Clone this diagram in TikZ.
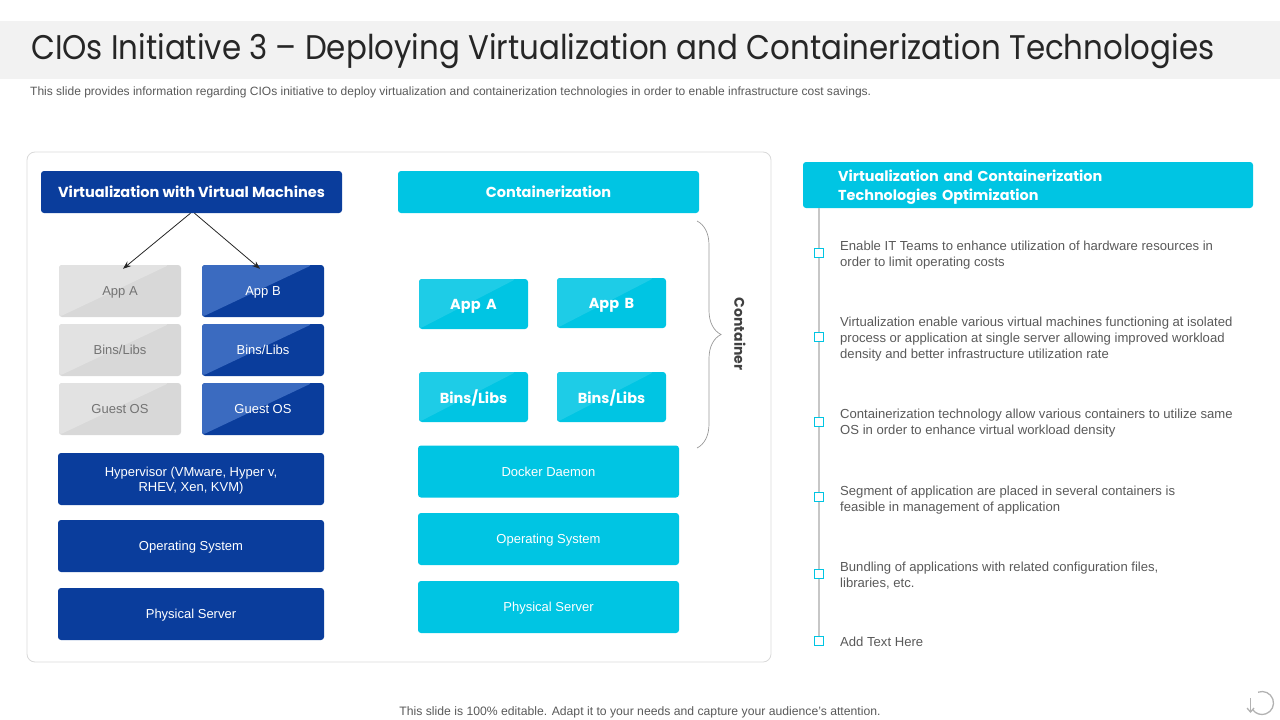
\documentclass[tikz,border=0pt]{standalone}
\usepackage{fontspec}
\setmainfont{Liberation Sans}
\newfontfamily\gothic{Poppins}
\usetikzlibrary{decorations.pathreplacing,arrows.meta}
\definecolor{navy}{HTML}{0A3D9C}
\definecolor{navyL}{HTML}{3B6BC0}
\definecolor{cyanM}{HTML}{00C5E3}
\definecolor{cyanL}{HTML}{1ECCE7}
\definecolor{grayM}{HTML}{D8D8D8}
\definecolor{grayL}{HTML}{E2E2E2}
\definecolor{band}{HTML}{F2F2F2}
\definecolor{txt}{HTML}{595959}
\definecolor{panel}{HTML}{D9D9D9}
\begin{document}
\begin{tikzpicture}[x=1pt,y=-1pt,
  box/.style={rounded corners=3pt, inner sep=0pt, align=center, text=white, text depth=0pt},
  lighttint/.style={path picture={\fill[#1] (path picture bounding box.south west) -- (path picture bounding box.north west) -- ([xshift=-12pt]path picture bounding box.north east) -- cycle;}},
  graybox/.style={box, fill=grayM, lighttint=grayL, text=gray!90!black, minimum width=122pt, minimum height=52pt, font=\fontsize{13}{15}\selectfont},
  bluebox/.style={box, fill=navy, lighttint=navyL, minimum width=122pt, minimum height=52pt, font=\fontsize{13}{15}\selectfont},
  widenavy/.style={box, fill=navy, minimum width=266pt, minimum height=52pt, font=\fontsize{13}{15}\selectfont},
  cyansmall/.style={box, fill=cyanM, lighttint=cyanL, minimum width=109pt, minimum height=50pt, font=\gothic\bfseries\fontsize{14.5}{16}\selectfont},
  widecyan/.style={box, fill=cyanM, minimum width=261pt, minimum height=52pt, font=\fontsize{13}{15}\selectfont},
  header/.style={box, minimum width=301pt, minimum height=42pt, font=\gothic\bfseries\fontsize{14.5}{16}\selectfont},
  bullet/.style={draw=cyanM, fill=white, line width=1pt, minimum size=8.5pt, inner sep=0pt},
  item/.style={anchor=west, inner sep=0pt, align=left, text=txt, font=\fontsize{13.1}{16}\selectfont},
  arr/.style={-{Stealth[length=8pt,width=6pt]}, line width=0.8pt, draw=black!85}
]
\useasboundingbox (0,0) rectangle (1280,720);
% title band
\fill[band] (0,21) rectangle (1280,79);
\node[anchor=west, inner sep=0pt, text=black!85] (title) at (31,51)
  {\resizebox{1183pt}{26pt}{\gothic CIOs Initiative 3 – Deploying Virtualization and Containerization Technologies}};
\node[anchor=west, inner sep=0pt, text=txt] (sub) at (30,92)
  {\resizebox{841pt}{!}{\fontsize{11.5}{13}\selectfont This slide provides information regarding CIOs initiative to deploy virtualization and containerization technologies in order to enable infrastructure cost savings.}};
% left panel
\draw[panel, line width=0.8pt, rounded corners=8pt] (27,152) rectangle (771,662);
% VM side
\node[header, fill=navy] (vh) at (191.5,192) {Virtualization with Virtual Machines};
\node[graybox] (ga) at (120,291) {App A};
\node[graybox] (gb) at (120,350) {Bins/Libs};
\node[graybox] (gc) at (120,409) {Guest OS};
\node[bluebox] (ba) at (263,291) {App B};
\node[bluebox] (bb) at (263,350) {Bins/Libs};
\node[bluebox] (bc) at (263,409) {Guest OS};
\node[widenavy] (hyp) at (191,479) {Hypervisor (VMware, Hyper v,\\RHEV, Xen, KVM)};
\node[widenavy] (os1) at (191,546) {Operating System};
\node[widenavy] (ps1) at (191,614) {Physical Server};
\draw[arr] ([xshift=-1pt]vh.south) -- ([xshift=3pt,yshift=-4pt]ga.north);
\draw[arr] ([xshift=3pt]vh.south) -- ([xshift=-3pt,yshift=-4pt]ba.north);
% container side
\node[header, fill=cyanM] (ch) at (548.5,192) {Containerization};
\node[cyansmall] (ca) at (473.5,304) {App\, A};
\node[cyansmall] (cb) at (611.5,303) {App\, B};
\node[cyansmall] (cc) at (473.5,397) {Bins/Libs};
\node[cyansmall] (cd) at (611.5,397) {Bins/Libs};
\node[widecyan] (dd) at (548.5,471.5) {Docker Daemon};
\node[widecyan] (os2) at (548.5,539) {Operating System};
\node[widecyan] (ps2) at (548.5,607) {Physical Server};
\coordinate (brt) at (697,221);
\coordinate (brb) at (697,448);
\draw[black!40, line width=0.7pt, decorate, decoration={brace, amplitude=24pt, aspect=0.5}] (brt) -- (brb);
\node[rotate=-90, inner sep=0pt, text=black!75, font=\gothic\bfseries\fontsize{14}{16}\selectfont] (cont) at (740,334) {Container};
% right side
\node[box, fill=cyanM, minimum width=450pt, minimum height=46pt] (rh) at (1028,185) {};
\node[anchor=west, inner sep=0pt, text width=380pt, align=left, text=white, font=\gothic\bfseries\fontsize{14.4}{19}\selectfont] (rht) at ([yshift=-2pt]rh.west -| 838,0)
  {Virtualization and Containerization\\Technologies Optimization};
\node[bullet] (s1) at (819,253) {};
\node[bullet] (s2) at (819,337) {};
\node[bullet] (s3) at (819,422) {};
\node[bullet] (s4) at (819,497) {};
\node[bullet] (s5) at (819,574) {};
\node[bullet] (s6) at (819,641) {};
\draw[black!22, line width=1.6pt] (rh.south -| s1) -- (s1) (s1) -- (s2) (s2) -- (s3) (s3) -- (s4) (s4) -- (s5) (s5) -- (s6);
\node[item] (t1) at (840,255) {Enable IT Teams to enhance utilization of hardware resources in\\order to limit operating costs};
\node[item] (t2) at (840,339) {Virtualization enable various virtual machines functioning at isolated\\process or application at single server allowing improved workload\\density and better infrastructure utilization rate};
\node[item] (t3) at (840,423) {Containerization technology allow various containers to utilize same\\OS in order to enhance virtual workload density};
\node[item] (t4) at (840,500) {Segment of application are placed in several containers is\\feasible in management of application};
\node[item] (t5) at (840,576) {Bundling of applications with related configuration files,\\libraries, etc.};
\node[item] (t6) at (840,642) {Add Text Here};
% footer
\node[inner sep=0pt, text=txt, font=\fontsize{12.2}{14}\selectfont] (foot) at (640,712) {This slide is 100\% editable. Adapt it to your needs and capture your audience's attention.};
% refresh icon
\coordinate (rc) at (1262,703);
\draw[black!30, line width=1.3pt] (rc) ++(250:11.5) arc[start angle=250, end angle=505, radius=11.5];
\draw[black!30, line width=1.3pt, -{Straight Barb[length=4pt,width=7pt]}] (rc) ++(180:11.5) ++(0,-5) -- ++(0,15);
\end{tikzpicture}
\end{document}
